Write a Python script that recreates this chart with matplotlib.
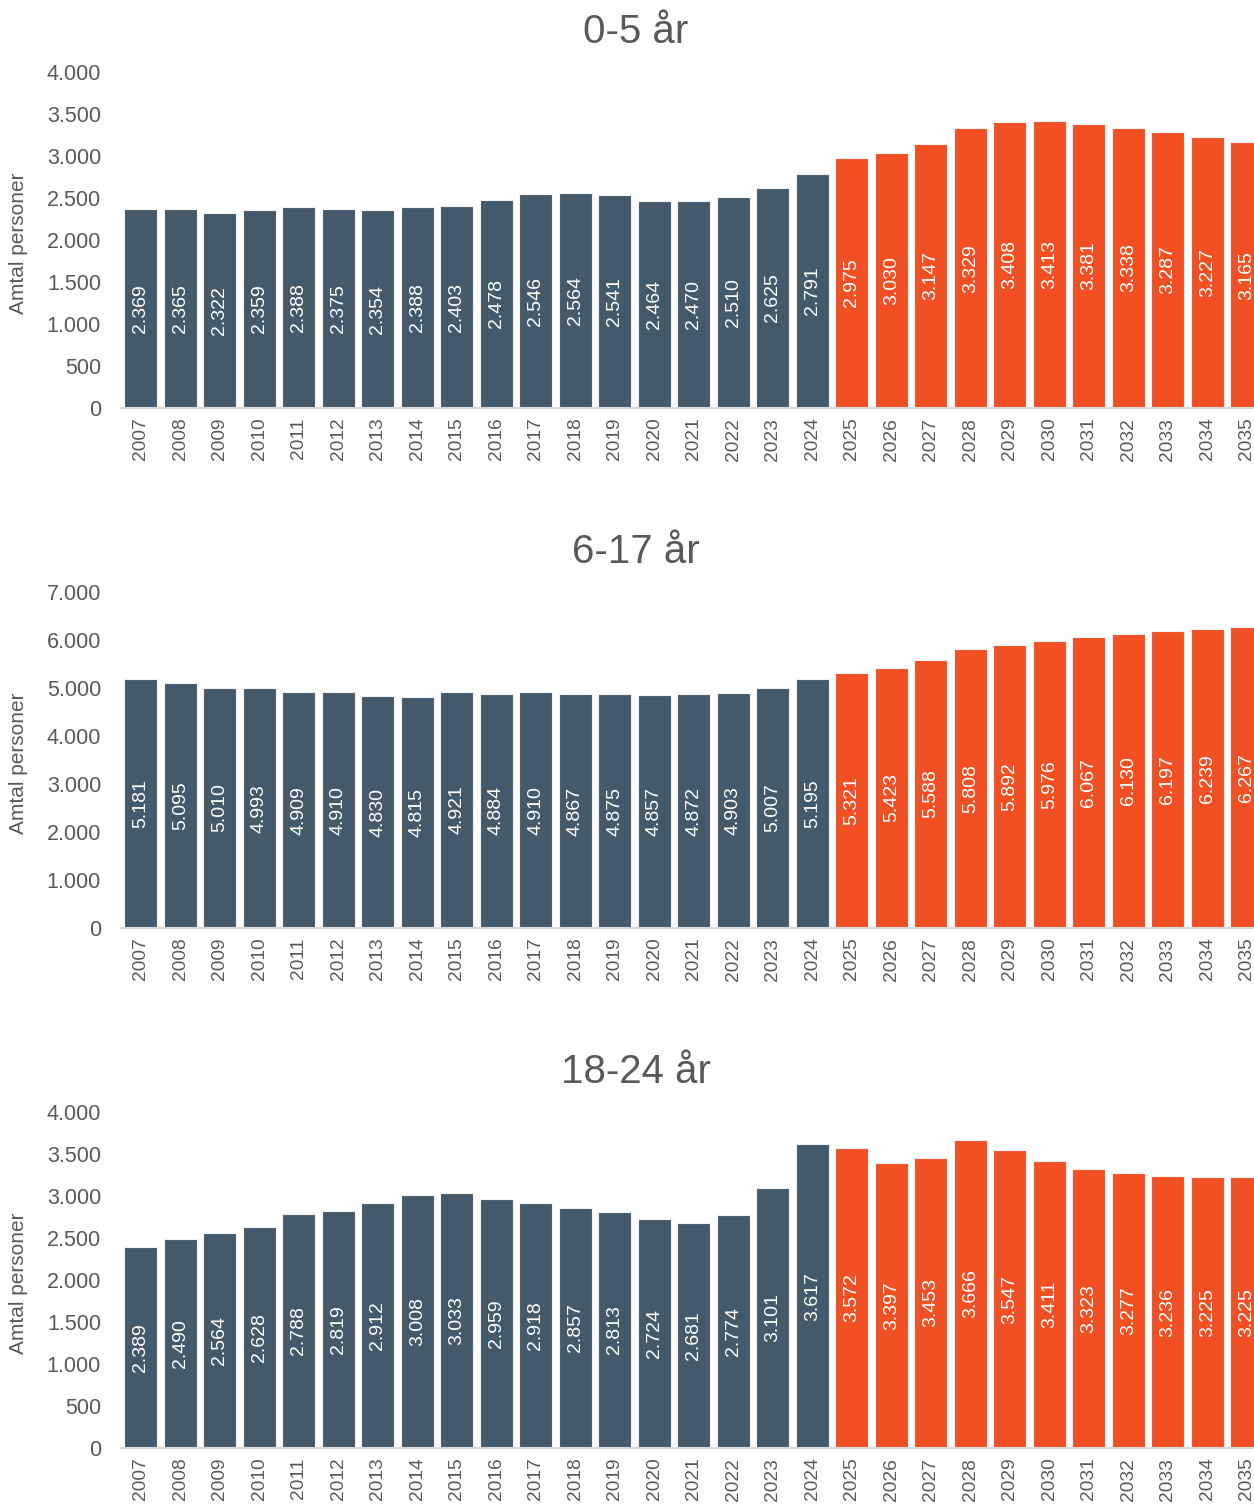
import matplotlib.pyplot as plt
from matplotlib.ticker import FuncFormatter

plt.rcParams['font.family'] = ['Liberation Sans', 'DejaVu Sans']

years = [str(y) for y in range(2007, 2036)]
n_history = 18  # 2007-2024 are historical, the rest is forecast

titles = ["0-5 år", "6-17 år", "18-24 år"]

age_0_5 = [2369, 2365, 2322, 2359, 2388, 2375, 2354, 2388, 2403, 2478, 2546,
           2564, 2541, 2464, 2470, 2510, 2625, 2791, 2975, 3030, 3147, 3329,
           3408, 3413, 3381, 3338, 3287, 3227, 3165]
age_6_17 = [5181, 5095, 5010, 4993, 4909, 4910, 4830, 4815, 4921, 4884, 4910,
            4867, 4875, 4857, 4872, 4903, 5007, 5195, 5321, 5423, 5588, 5808,
            5892, 5976, 6067, 6130, 6197, 6239, 6267]
age_18_24 = [2389, 2490, 2564, 2628, 2788, 2819, 2912, 3008, 3033, 2959, 2918,
             2857, 2813, 2724, 2681, 2774, 3101, 3617, 3572, 3397, 3453, 3666,
             3547, 3411, 3323, 3277, 3236, 3225, 3225]

series = [age_0_5, age_6_17, age_18_24]
y_max = [4000, 7000, 4000]
y_step = [500, 1000, 500]

dark = "#44596a"
orange = "#f05023"
grey_text = "#595959"

W, H = 1254, 1506
fig = plt.figure(figsize=(W / 100, H / 100), dpi=100)

# pixel positions of the plot areas (top, bottom)
boxes = [(72, 408), (592, 928), (1112, 1448)]
title_y = [32, 552, 1072]
left_px = 121


def thousands(v, pos):
    return f"{int(v):,}".replace(",", ".")


for i, values in enumerate(series):
    top, bottom = boxes[i]
    ax = fig.add_axes([left_px / W, 1 - bottom / H, 1 - left_px / W, (bottom - top) / H])
    colors = [dark if k < n_history else orange for k in range(len(years))]
    x = list(range(len(years)))
    bars = ax.bar(x, values, width=0.84, color=colors, edgecolor="#f2f2f2", linewidth=0.8)

    # value labels in the middle of each bar
    for b, v in zip(bars, values):
        ax.text(b.get_x() + b.get_width() / 2, v / 2, thousands(v, None),
                rotation=90, ha="center", va="center", color="white", fontsize=14)

    # the last bar is cut off at the right edge, as in the source
    ax.set_xlim(-0.5, 28.18)
    ax.set_ylim(0, y_max[i])
    ax.set_yticks(range(0, y_max[i] + 1, y_step[i]))
    ax.yaxis.set_major_formatter(FuncFormatter(thousands))
    ax.set_xticks(x)
    ax.set_xticklabels(years, rotation=90)
    ax.tick_params(axis="both", length=0, colors=grey_text)
    ax.tick_params(axis="y", pad=14.4, labelsize=15.5)
    ax.tick_params(axis="x", pad=7, labelsize=13.8)
    for side in ["top", "right", "left"]:
        ax.spines[side].set_visible(False)
    ax.spines["bottom"].set_color("#d9d9d9")
    ax.spines["bottom"].set_linewidth(1.5)

    # axis title placed in figure space so it is not clipped at the left edge
    fig.text(19 / W, 1 - (top + 171) / H, "Amtal personer", rotation=90,
             ha="center", va="center", fontsize=15, color=grey_text)

    fig.text(636 / W, 1 - title_y[i] / H, titles[i], ha="center", va="center",
             fontsize=29, color=grey_text)

fig.savefig("out.png", dpi=100)
